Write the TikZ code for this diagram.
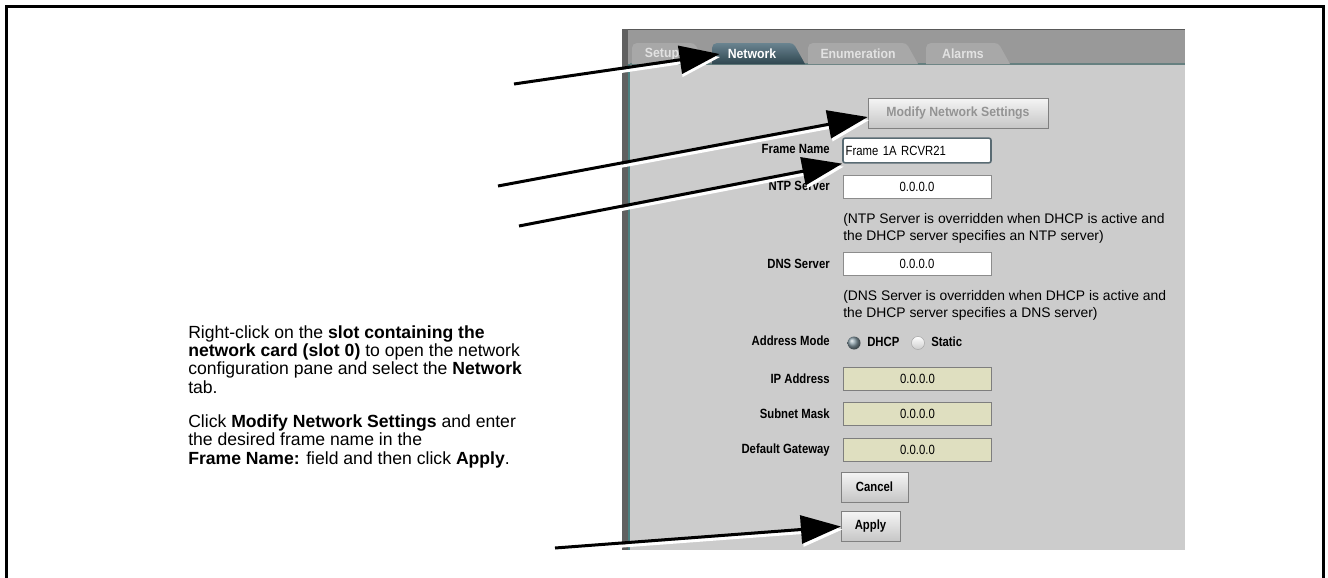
\documentclass[tikz,border=0pt]{standalone}
\usepackage{fontspec}
\setmainfont{Liberation Sans}
\newfontfamily\uicond[FakeStretch=0.85]{Liberation Sans}
\newfontfamily\uitab[FakeStretch=0.92]{Liberation Sans}
\usetikzlibrary{arrows.meta}

\definecolor{panelgray}{HTML}{CCCCCC}
\definecolor{bargray}{HTML}{999999}
\definecolor{tabgray}{HTML}{A8A8A8}
\definecolor{tabtext}{HTML}{E2E2E2}
\definecolor{tealtop}{HTML}{6A8490}
\definecolor{tealbot}{HTML}{2F4650}
\definecolor{fieldline}{HTML}{8C8C8C}
\definecolor{lockfill}{HTML}{DFDFC0}

\tikzset{
  uilabel/.style={anchor=base east,font=\uicond\fontsize{10}{11}\selectfont\bfseries,inner sep=0pt},
  uinote/.style={anchor=base west,font=\fontsize{10.4}{11}\selectfont,inner sep=0pt},
  field/.style={draw=fieldline,fill=white,minimum width=111pt,minimum height=17pt,
    inner sep=0pt,font=\uicond\fontsize{10}{11}\selectfont},
  lockfield/.style={field,fill=lockfill,draw=fieldline!90!black},
  uibutton/.style={draw=gray,top color=white!92!gray,bottom color=gray!45,
    minimum height=22.5pt,inner sep=0pt,font=\uicond\fontsize{10}{11}\selectfont\bfseries},
  tabtxt/.style={font=\uitab\fontsize{10}{11}\selectfont\bfseries,text=tabtext,inner sep=0pt},
  callout/.style={line width=2.25pt,-{Triangle[length=30pt,width=21pt]}},
  calloutshadow/.style={line width=2.25pt,white,-{Triangle[length=30pt,width=21pt]}},
  steptext/.style={anchor=north west,align=left,inner sep=0pt,
    font=\fontsize{13.2}{13.75}\selectfont}
}

\begin{document}
\begin{tikzpicture}[x=0.75pt,y=-0.75pt]
  \useasboundingbox (0,0) rectangle (1328,578);
  % page frame, open at the bottom
  \draw[line width=2.25pt] (6.5,578) -- (6.5,6.5) -- (1323.5,6.5) -- (1323.5,578);

  % screenshot panel
  \fill[panelgray] (622,29) rectangle (1185,550);
  \fill[bargray] (622,29) rectangle (1185,64);
  \draw[gray!70!black,line width=1pt] (622,29.5) -- (1185,29.5);
  \draw[gray!80!teal,line width=1pt] (630,64) -- (1185,64);
  \fill[gray!75!black] (622,29) rectangle (628,550);
  \draw[gray!60!teal,line width=1pt] (629,64) -- (629,550);

  % tabs
  \foreach \xa/\xb in {632/706,808/918,926/1010} {
    \fill[tabgray] (\xa,64) -- (\xa,48) to[out=90,in=180] (\xa+5,43)
      -- (\xb-16,43) to[out=0,in=125] (\xb-10,46) -- (\xb,64) -- cycle;
  }
  \shade[top color=tealtop,bottom color=tealbot] (712,64) -- (712,48)
    to[out=90,in=180] (717,43) -- (789,43) to[out=0,in=125] (795,46) -- (805,64) -- cycle;
  \node[tabtxt] (setuptab) at (662,54) {Setup};
  \node[tabtxt,text=white] (nettab) at (752,54) {Network};
  \node[tabtxt] (enumtab) at (858,54) {Enumeration};
  \node[tabtxt] (alarmtab) at (963,54) {Alarms};

  % network settings form
  \node[uibutton,text=gray!85,minimum width=135pt,font=\uitab\fontsize{10}{11}\selectfont\bfseries]
    (modify) at (958,113) {Modify Network Settings};
  \node[uilabel] (lname) at (830,153) {Frame Name};
  \node[field,draw=tealbot!80,line width=1.2pt,rounded corners=1.5pt,minimum height=18.5pt,
    text width=107pt,align=left] (fname) at (917,150.5) {Frame 1A RCVR21};
  \node[uilabel] (lntp) at (830,190) {NTP Server};
  \node[field] (ntp) at (917,187) {0.0.0.0};
  \node[uinote] (ntpnote) at (843,223.5) {(NTP Server is overridden when DHCP is active and};
  \node[uinote] (ntpnote2) at (843,240.5) {the DHCP server specifies an NTP server)};
  \node[uilabel] (ldns) at (830,268) {DNS Server};
  \node[field] (dns) at (917,264) {0.0.0.0};
  \node[uinote] (dnsnote) at (843,300) {(DNS Server is overridden when DHCP is active and};
  \node[uinote] (dnsnote2) at (843,317) {the DHCP server specifies a DNS server)};
  \node[uilabel] (lmode) at (830,345) {Address Mode};
  \shade[ball color=tealtop!80] (854,343) circle (6.5);
  \node[uilabel,anchor=base west] (dhcp) at (867,346) {DHCP};
  \draw[gray!70,top color=white,bottom color=gray!40] (918,343) circle (6.5);
  \node[uilabel,anchor=base west] (static) at (931,346) {Static};
  \node[uilabel] (lip) at (830,383) {IP Address};
  \node[lockfield] (ip) at (917.5,379) {0.0.0.0};
  \node[uilabel] (lmask) at (830,418) {Subnet Mask};
  \node[lockfield] (mask) at (917.5,414) {0.0.0.0};
  \node[uilabel] (lgate) at (830,453) {Default Gateway};
  \node[lockfield] (gate) at (917.5,449.5) {0.0.0.0};
  \node[uibutton,minimum width=50pt] (cancel) at (874.5,487) {Cancel};
  \node[uibutton,minimum width=44pt] (apply) at (870.5,526.5) {Apply};

  % instructions
  \node[steptext] (steps) at (188,325) {Right-click on the \textbf{slot containing the}\\
    \textbf{network card (slot 0)} to open the network\\
    configuration pane and select the \textbf{Network}\\
    tab.\\[12pt]
    Click \textbf{Modify Network Settings} and enter\\
    the desired frame name in the\\
    \textbf{Frame Name:} field and then click \textbf{Apply}.};

  % callout arrows
  \coordinate (s1) at (514,84);
  \coordinate (s2) at (498,186);
  \coordinate (s3) at (519,226);
  \coordinate (s4) at (555,548);
  \draw[calloutshadow] ([shift={(1.5,3)}]s1) -- ([shift={(-7.5,3)}]nettab.west);
  \draw[callout] (s1) -- ([xshift=-6pt]nettab.west);
  \draw[calloutshadow] ([shift={(1.5,3)}]s2) -- ([shift={(1.5,7)}]modify.west);
  \draw[callout] (s2) -- ([yshift=-3pt]modify.west);
  \draw[calloutshadow] ([shift={(1.5,3)}]s3) -- ([shift={(1.5,3)}]fname.south west);
  \draw[callout] (s3) -- (fname.south west);
  \draw[calloutshadow] ([shift={(1.5,3)}]s4) -- ([shift={(1.5,3)}]apply.west);
  \draw[callout] (s4) -- (apply.west);
\end{tikzpicture}
\end{document}
